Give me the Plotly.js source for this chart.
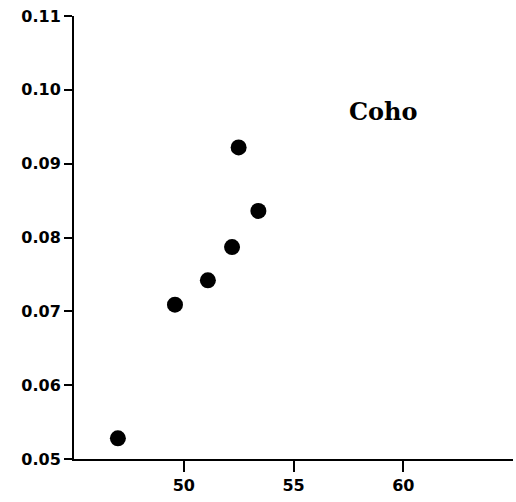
<!DOCTYPE html>
<html>
<head>
<meta charset="utf-8">
<script src="https://cdn.plot.ly/plotly-3.0.1.min.js"></script>
<style>
  html, body { margin: 0; padding: 0; background: #fff; }
  #chart { width: 516px; height: 502px; }
</style>
</head>
<body>
<div id="chart"></div>
<script>
// Coho: body length vs. ratio
const lengthVals = [47.0, 49.6, 51.1, 52.2, 52.5, 53.4];
const ratioVals  = [0.0528, 0.0709, 0.0742, 0.0787, 0.0922, 0.0836];

const xTicks = [50, 55, 60];
const xTickText = ['50', '55', '60'];
const yTicks = [0.05, 0.06, 0.07, 0.08, 0.09, 0.10, 0.11];
const yTickText = ['0.05', '0.06', '0.07', '0.08', '0.09', '0.10', '0.11'];

const speciesLabel = 'Coho';

const tickFont = { family: 'DejaVu Sans, sans-serif', size: 16, color: '#000', weight: 700 };

const trace = {
  x: lengthVals,
  y: ratioVals,
  type: 'scatter',
  mode: 'markers',
  marker: { size: 16, color: '#000', line: { width: 0 } },
  hoverinfo: 'x+y'
};

const layout = {
  width: 516,
  height: 502,
  margin: { l: 74, r: 3, t: 16, b: 43 },
  paper_bgcolor: '#fff',
  plot_bgcolor: '#fff',
  showlegend: false,
  xaxis: {
    range: [45, 65],
    tickvals: xTicks,
    ticktext: xTickText,
    ticks: 'outside',
    ticklen: 11,
    tickwidth: 2,
    tickcolor: '#000',
    showline: true,
    linewidth: 2,
    linecolor: '#000',
    showgrid: false,
    zeroline: false,
    tickfont: tickFont
  },
  yaxis: {
    range: [0.05, 0.11],
    tickvals: yTicks,
    ticktext: yTickText,
    ticks: 'outside',
    ticklen: 8,
    tickwidth: 2,
    tickcolor: '#000',
    showline: true,
    linewidth: 2,
    linecolor: '#000',
    showgrid: false,
    zeroline: false,
    tickfont: tickFont
  },
  annotations: [{
    x: 59.1,
    y: 0.0970,
    xref: 'x',
    yref: 'y',
    text: speciesLabel,
    showarrow: false,
    font: { family: 'DejaVu Serif, serif', size: 24, color: '#000', weight: 700 }
  }]
};

Plotly.newPlot('chart', [trace], layout, { staticPlot: true, displayModeBar: false });
</script>
</body>
</html>
